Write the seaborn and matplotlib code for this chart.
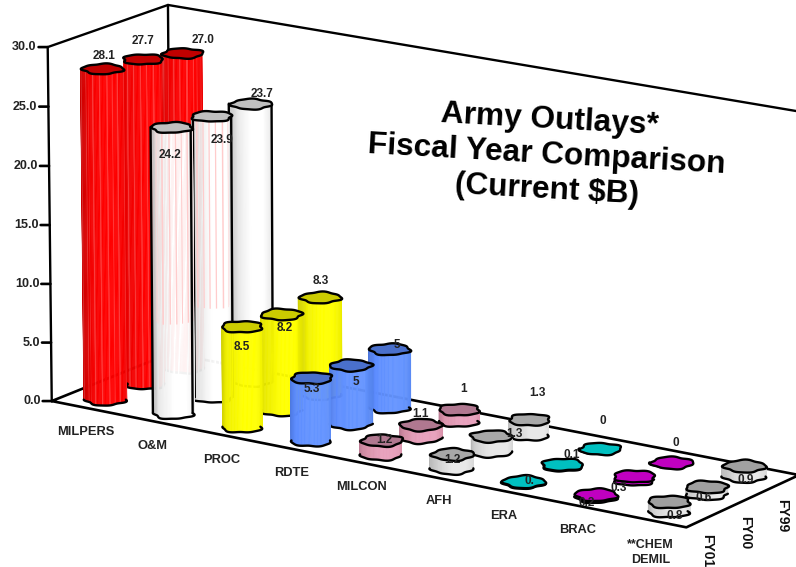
import numpy as np
import matplotlib
matplotlib.use("Agg")
import matplotlib.pyplot as plt
import seaborn as sns
from matplotlib.colors import to_rgb
from mpl_toolkits.mplot3d import proj3d
from mpl_toolkits.mplot3d.art3d import Poly3DCollection

categories = ["MILPERS", "O&M", "PROC", "RDTE", "MILCON", "AFH", "ERA", "BRAC", "**CHEM\nDEMIL"]
years = ["FY01", "FY00", "FY99"]
fy01 = [28.1, 24.2, 8.5, 5.3, 1.2, 1.2, 0.1, 0.2, 0.8]
fy00 = [27.7, 23.9, 8.2, 5.0, 1.1, 1.3, 0.1, 0.3, 0.6]
fy99 = [27.0, 23.7, 8.3, 5.0, 1.0, 1.3, 0.0, 0.0, 0.9]
fy01_labels = ["28.1", "24.2", "8.5", "5.3", "1.2", "1.2", "0.", "0.2", "0.8"]
fy00_labels = ["27.7", "23.9", "8.2", "5", "1.1", "1.3", "0.1", "0.3", "0.6"]
fy99_labels = ["27.0", "23.7", "8.3", "5", "1", "1.3", "0", "0", "0.9"]
y_ticks = [0, 5, 10, 15, 20, 25, 30]

# pixel nudges of the value labels, one (dx, dy) per bar
fy01_nudge = [(2, 12), (-1, -28), (0, -21), (1, -11), (3, 0), (0, -6), (6, 0), (-9, -9), (6, -14)]
fy00_nudge = [(0, 18), (11, -24), (4, -14), (5, -17), (0, 11), (23, 2), (10, 9), (-15, -12), (-3, -11)]
fy99_nudge = [(21, 13), (11, 10), (1, 16), (8, 4), (5, 20), (8, 26), (3, 27), (4, 19), (1, -14)]
category_nudge = [0, -1, -1, 0, 0, 6, -1, 1, 1]

white_stops = ["#b8b8b8", "#e4e4e4", "#ffffff", "#ffffff", "#dcdcdc"]
grey_stops = ["#b4b4b4", "#d0d0d0", "#e8e8e8", "#e8e8e8", "#d4d4d4"]
side_stops = [
    ["#c80000", "#f00000", "#ff0000", "#ff0000", "#e80000"],
    white_stops,
    ["#cccc00", "#eeee00", "#ffff00", "#ffff00", "#e4e400"],
    ["#4a74d8", "#5c8cff", "#6494ff", "#6494ff", "#5484ee"],
    ["#b87890", "#d890a8", "#e8a0bc", "#e8a0bc", "#d890a8"],
    grey_stops,
    ["#00a0a0", "#00d0d0", "#00ffff", "#00ffff", "#00d0d0"],
    ["#a000a0", "#d000d0", "#ff00ff", "#ff00ff", "#d000d0"],
    grey_stops,
]
top_colors = ["#c00000", "#c0c0c0", "#cccc00", "#4a70cc", "#b07890",
              "#a8a8a8", "#00c0c0", "#c000c0", "#a0a0a0"]
outlined = [False, True, False, False, False, False, False, False, False]

sns.set_theme(style="white")
plt.rcParams["font.family"] = ["Liberation Sans", "DejaVu Sans"]
plt.rcParams["font.weight"] = "bold"

W, H = 796, 567
S = 851
fig = plt.figure(figsize=(W / 100, H / 100), dpi=100, facecolor="white")
ax = fig.add_axes([-16.57 / W, -129.375 / H, S / W, S / H], projection="3d",
                  proj_type="persp", focal_length=2.0, computed_zorder=False)
elev, azim = 15.8, -55.98
ax.view_init(elev=elev, azim=azim)
aspect = (746, 203.1, 362.8)
ax.set_box_aspect(aspect)
ax.set_xlim(0, 9)
ax.set_ylim(0, 3)
ax.set_zlim(0, 30)
ax.set_axis_off()
ax.patch.set_alpha(0)


def to_2d(x, y, z):
    px, py, _ = proj3d.proj_transform(x, y, z, ax.get_proj())
    return float(px), float(py)


def put_text(x, y, z, s, dx, dy, ha="center", **kw):
    ax.annotate(s, xy=to_2d(x, y, z), xytext=(dx, dy), textcoords="offset pixels",
                ha=ha, va="center", annotation_clip=False, zorder=200, **kw)


def frame_line(xs, ys, zs, lw=1.7):
    ax.plot(xs, ys, zs, color="black", lw=lw, zorder=1, solid_capstyle="round")


frame_line([0, 9, 9, 0, 0], [0, 0, 3, 3, 0], [0, 0, 0, 0, 0], lw=1.9)
frame_line([0, 0], [0, 0], [0, 30])
frame_line([0, 0], [3, 3], [0, 30])
frame_line([0, 0, 9], [0, 3, 3], [30, 30, 30])
for t in y_ticks:
    frame_line([0, -0.09], [0, -0.074], [t, t], lw=1.9)
    put_text(0, 0, t, f"{t:.1f}", -11, 0, ha="right", fontsize=9, color="#222222")

for i, name in enumerate(categories):
    cdx = category_nudge[i]
    if "\n" in name:
        top_line, low_line = name.split("\n")
        put_text(i + 0.5, 0, 0, top_line, cdx, -24.5, fontsize=9, color="#222222")
        put_text(i + 0.5, 0, 0, low_line, cdx, -40, fontsize=9, color="#222222")
    else:
        put_text(i + 0.5, 0, 0, name, cdx, -24.5, fontsize=9.3, color="#222222")
for j, yr in enumerate(years):
    put_text(9, j + 0.5, 0, yr, 2, -32, fontsize=10, rotation=-90, color="#111111")

# cylinders, back rows first and left categories first
radius = 20.5
unit = 1.0265  # pixels per box aspect unit
rx = radius / (aspect[0] * unit / 9)
ry = radius / (aspect[1] * unit / 3)
n_facets = 48
az = np.deg2rad(azim)
theta = np.linspace(az - np.pi / 2, az + np.pi / 2, n_facets + 1)
ring = np.linspace(0, 2 * np.pi, 73)
rows = [fy01, fy00, fy99]
row_labels = [fy01_labels, fy00_labels, fy99_labels]
row_nudges = [fy01_nudge, fy00_nudge, fy99_nudge]


def outline(th, i, j):
    return 1 + 0.07 * np.sin(4 * th + i + 2 * j) + 0.045 * np.sin(7 * th + 3 * j)


for i in range(len(categories)):
    shades = sns.blend_palette(side_stops[i], n_facets)
    if i == 0:
        shades = [tuple(0.78 * np.array(c) + 0.22) if k % 5 == 2 else c for k, c in enumerate(shades)]
    for j in (2, 1, 0):
        val = rows[j][i]
        base = 10 + 4 * (i * 3 + (2 - j))
        cx, cy = i + 0.5, j + 0.5
        r = outline(theta, i, j)
        fx = cx + rx * r * np.cos(theta)
        fy = cy + ry * r * np.sin(theta)
        if val > 0:
            verts = [[(fx[k], fy[k], 0), (fx[k + 1], fy[k + 1], 0),
                      (fx[k + 1], fy[k + 1], val), (fx[k], fy[k], val)] for k in range(n_facets)]
            side = Poly3DCollection(verts, facecolors=shades, edgecolors=shades, linewidths=0.4)
            side.set_zorder(base)
            ax.add_collection3d(side, autolim=False)
        if i == 1 and j < 2:
            # pale red streaks on the upper part of the white O&M bars
            streaks = [[(fx[k], fy[k], 8), (fx[k + 1], fy[k + 1], 8),
                        (fx[k + 1], fy[k + 1], val), (fx[k], fy[k], val)]
                       for k in range(2, n_facets - 2, 5)]
            st = Poly3DCollection(streaks, facecolors="#ffcccc", edgecolors="none")
            st.set_zorder(base + 0.5)
            ax.add_collection3d(st, autolim=False)
        ax.plot(fx, fy, np.zeros_like(fx), color="black", lw=1.7, zorder=base + 1)
        if outlined[i]:
            for k in (0, -1):
                ax.plot([fx[k], fx[k]], [fy[k], fy[k]], [0, val], color="black", lw=1.7, zorder=base + 1)
        rr = outline(ring, i, j)
        top = [list(zip(cx + rx * rr * np.cos(ring), cy + ry * rr * np.sin(ring), np.full_like(ring, val)))]
        cap = Poly3DCollection(top, facecolors=to_rgb(top_colors[i]), edgecolors="black", linewidths=1.7)
        cap.set_zorder(base + 2)
        ax.add_collection3d(cap, autolim=False)
        dx, dy = row_nudges[j][i]
        put_text(cx, cy, val, row_labels[j][i], dx, dy, fontsize=8.5, color="#222222")

title_lines = ["Army Outlays*", "Fiscal Year Comparison", "(Current $B)"]
title_pos = [(550, 120), (547, 155), (547, 190)]
for line, (tx, ty) in zip(title_lines, title_pos):
    fig.text(tx / W, 1 - ty / H, line, fontsize=22.8, fontweight="bold", color="black",
             ha="center", va="center", rotation=-3.2, rotation_mode="anchor")

fig.savefig("out.png", dpi=100)
